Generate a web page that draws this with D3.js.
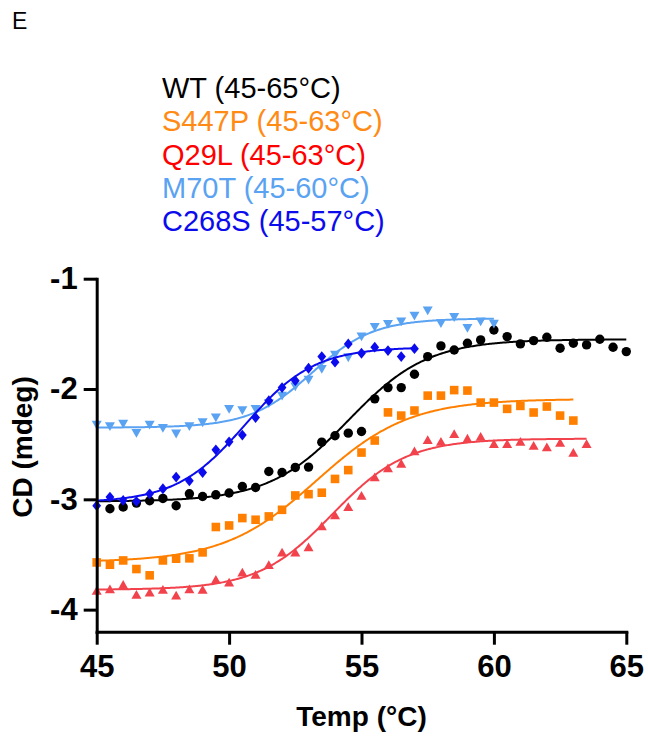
<!DOCTYPE html>
<html>
<head>
<meta charset="utf-8">
<script src="https://cdn.jsdelivr.net/npm/d3@7"></script>
<style>
  html, body { margin: 0; padding: 0; background: #fff; }
  svg { display: block; }
  text { font-family: "Liberation Sans", Arial, sans-serif; }
</style>
</head>
<body>
<svg id="chart" width="648" height="737"></svg>
<script>
// Temperature grid (°C) shared by all melting series
const temps = [45, 45.5, 46, 46.5, 47, 47.5, 48, 48.5, 49, 49.5, 50, 50.5, 51, 51.5, 52, 52.5,
  53, 53.5, 54, 54.5, 55, 55.5, 56, 56.5, 57, 57.5, 58, 58.5, 59, 59.5, 60, 60.5, 61, 61.5,
  62, 62.5, 63, 63.5, 64, 64.5, 65];

// CD signal (mdeg) per temperature step; null where no reading was taken
const wtCD = [null, -3.085, -3.07, -3.034, -3.013, -2.992, -3.058, -2.95, -2.974, -2.959, -2.943,
  -2.884, -2.893, -2.748, -2.757, -2.711, -2.708, -2.482, -2.424, -2.40, -2.385, -2.089, -1.987,
  -1.987, -1.866, -1.706, -1.609, -1.646, -1.585, -1.555, -1.465, -1.525, -1.591, -1.561, -1.531,
  -1.63, -1.585, -1.60, -1.549, -1.621, -1.661];
const s447pCD = [-3.572, -3.593, -3.554, -3.632, -3.689, -3.554, -3.538, -3.535, -3.481, -3.251,
  -3.237, -3.17, -3.185, -3.155, -3.095, -2.965, -2.953, -2.94, -2.815, -2.735, -2.576, -2.467,
  -2.212, -2.241, -2.195, -2.06, -2.06, -2.01, -2.014, -2.123, -2.123, -2.18, -2.153, -2.213,
  -2.159, -2.241, -2.286];
const q29lCD = [-3.828, -3.813, -3.774, -3.864, -3.843, -3.819, -3.871, -3.813, -3.819, -3.728,
  -3.753, -3.662, -3.683, -3.593, -3.481, -3.481, -3.432, -3.243, -3.143, -3.068, -2.966, -2.798,
  -2.717, -2.675, -2.563, -2.461, -2.476, -2.407, -2.448, -2.431, -2.497, -2.497, -2.476, -2.512,
  -2.527, -2.485, -2.576, -2.497];
const m70tCD = [-2.325, -2.34, -2.316, -2.40, -2.325, -2.355, -2.406, -2.34, -2.304, -2.259,
  -2.183, -2.195, -2.183, -2.13, -2.062, -1.978, -1.917, -1.82, -1.691, -1.715, -1.525, -1.44,
  -1.413, -1.389, -1.338, -1.29, -1.405, -1.35, -1.449, -1.389, -1.41];
const c268sCD = [-3.058, -2.98, -3.01, -3.019, -2.95, -2.904, -2.798, -2.832, -2.757, -2.551,
  -2.479, -2.418, -2.259, -2.106, -1.987, -1.924, -1.812, -1.706, -1.757, -1.591, -1.676, -1.621,
  -1.652, -1.706, -1.634];

// Boltzmann sigmoid fit per series: [bottom, top, V50, slope], and fitted temperature range
const wtFit = [-3.02, -1.55, 54.5, 1.5];
const s447pFit = [-3.57, -2.09, 53.3, 1.75];
const q29lFit = [-3.82, -2.45, 53.9, 1.4];
const m70tFit = [-2.35, -1.36, 53.12, 1.17];
const c268sFit = [-3.03, -1.62, 50.6, 1.3];

const wtRange = [45, 65];
const s447pRange = [45, 63];
const q29lRange = [45, 63.5];
const m70tRange = [45, 60];
const c268sRange = [45, 57];

// Legend labels
const seriesNames = ["WT", "S447P", "Q29L", "M70T", "C268S"];
const legendLabels = ["WT (45-65°C)", "S447P (45-63°C)", "Q29L (45-63°C)", "M70T (45-60°C)", "C268S (45-57°C)"];

// Axis ticks
const xTicks = [45, 50, 55, 60, 65];
const yTicks = [-1, -2, -3, -4];

// Marker shapes (centred on their bounding box)
const diamond = { draw(c) { c.moveTo(0, -5.4); c.lineTo(4.4, 0); c.lineTo(0, 5.4); c.lineTo(-4.4, 0); c.closePath(); } };
const triUp = { draw(c) { c.moveTo(0, -4.6); c.lineTo(5, 4.2); c.lineTo(-5, 4.2); c.closePath(); } };
const triDown = { draw(c) { c.moveTo(0, 4.6); c.lineTo(5, -4.2); c.lineTo(-5, -4.2); c.closePath(); } };
const square = { draw(c) { c.rect(-4.3, -4.3, 8.6, 8.6); } };
const circle = { draw(c) { c.moveTo(4.7, 0); c.arc(0, 0, 4.7, 0, 2 * Math.PI); } };

const series = [
  { name: seriesNames[0], values: wtCD, start: 0, fit: wtFit, range: wtRange, color: "#000000", text: "#000000", shape: circle },
  { name: seriesNames[1], values: s447pCD, start: 0, fit: s447pFit, range: s447pRange, color: "#FF8000", text: "#FF8A14", shape: square },
  { name: seriesNames[2], values: q29lCD, start: 0, fit: q29lFit, range: q29lRange, color: "#F2434D", text: "#FF0000", shape: triUp },
  { name: seriesNames[3], values: m70tCD, start: 0, fit: m70tFit, range: m70tRange, color: "#5AA2F2", text: "#5AA2F2", shape: triDown },
  { name: seriesNames[4], values: c268sCD, start: 0, fit: c268sFit, range: c268sRange, color: "#0B0BEE", text: "#0B0BEE", shape: diamond }
];

const svg = d3.select("#chart");

const x = d3.scaleLinear().domain([45, 65]).range([96.7, 626.3]);
const y = d3.scaleLinear().domain([-4.2, -1]).range([631.7, 278.7]);

// Panel letter
svg.append("text").attr("x", 12).attr("y", 29).attr("font-size", 23).text("E");

// Legend
svg.append("g").selectAll("text").data(series).join("text")
  .attr("x", 162)
  .attr("y", (d, i) => 98 + i * 33.3)
  .attr("font-size", 29)
  .attr("fill", d => d.text)
  .text((d, i) => legendLabels[i]);

// Fitted curves and data points
const boltzmann = (p, t) => p[0] + (p[1] - p[0]) / (1 + Math.exp((p[2] - t) / p[3]));
const line = d3.line().x(d => x(d[0])).y(d => y(d[1]));

series.forEach(s => {
  const g = svg.append("g");
  const pts = d3.range(s.range[0], s.range[1] + 0.001, 0.05).map(t => [t, boltzmann(s.fit, t)]);
  g.append("path").attr("d", line(pts)).attr("fill", "none")
    .attr("stroke", s.color).attr("stroke-width", 2);
  const data = s.values.map((v, i) => [temps[s.start + i], v]).filter(d => d[1] !== null);
  g.selectAll("path.pt").data(data).join("path")
    .attr("class", "pt")
    .attr("transform", d => `translate(${x(d[0])},${y(d[1])})`)
    .attr("d", d3.symbol().type(s.shape).size(1)())
    .attr("fill", s.color);
});

// Axes
const xAxis = svg.append("g").attr("transform", "translate(0,631.7)")
  .call(d3.axisBottom(x).tickValues(xTicks).tickFormat(d3.format("d")).tickSize(13).tickSizeOuter(0).tickPadding(10));
const yAxis = svg.append("g").attr("transform", "translate(96.7,0)")
  .call(d3.axisLeft(y).tickValues(yTicks).tickFormat(d => d3.format("d")(d).replace("−", "-")).tickSize(13).tickSizeOuter(0).tickPadding(6));

[xAxis, yAxis].forEach(a => {
  a.select(".domain").attr("stroke", "#000").attr("stroke-width", 3).attr("stroke-linecap", "square");
  a.selectAll(".tick line").attr("stroke", "#000").attr("stroke-width", 3);
  a.selectAll(".tick text").attr("fill", "#000").attr("font-size", 31).attr("font-weight", "bold")
    .attr("font-family", "'Liberation Sans', Arial, sans-serif");
});

// Axis titles
svg.append("text").attr("x", 361.5).attr("y", 726).attr("text-anchor", "middle")
  .attr("font-size", 28).attr("font-weight", "bold").text("Temp (°C)");
svg.append("text").attr("transform", "translate(32,447) rotate(-90)").attr("text-anchor", "middle")
  .attr("font-size", 28).attr("font-weight", "bold").text("CD (mdeg)");
</script>
</body>
</html>
